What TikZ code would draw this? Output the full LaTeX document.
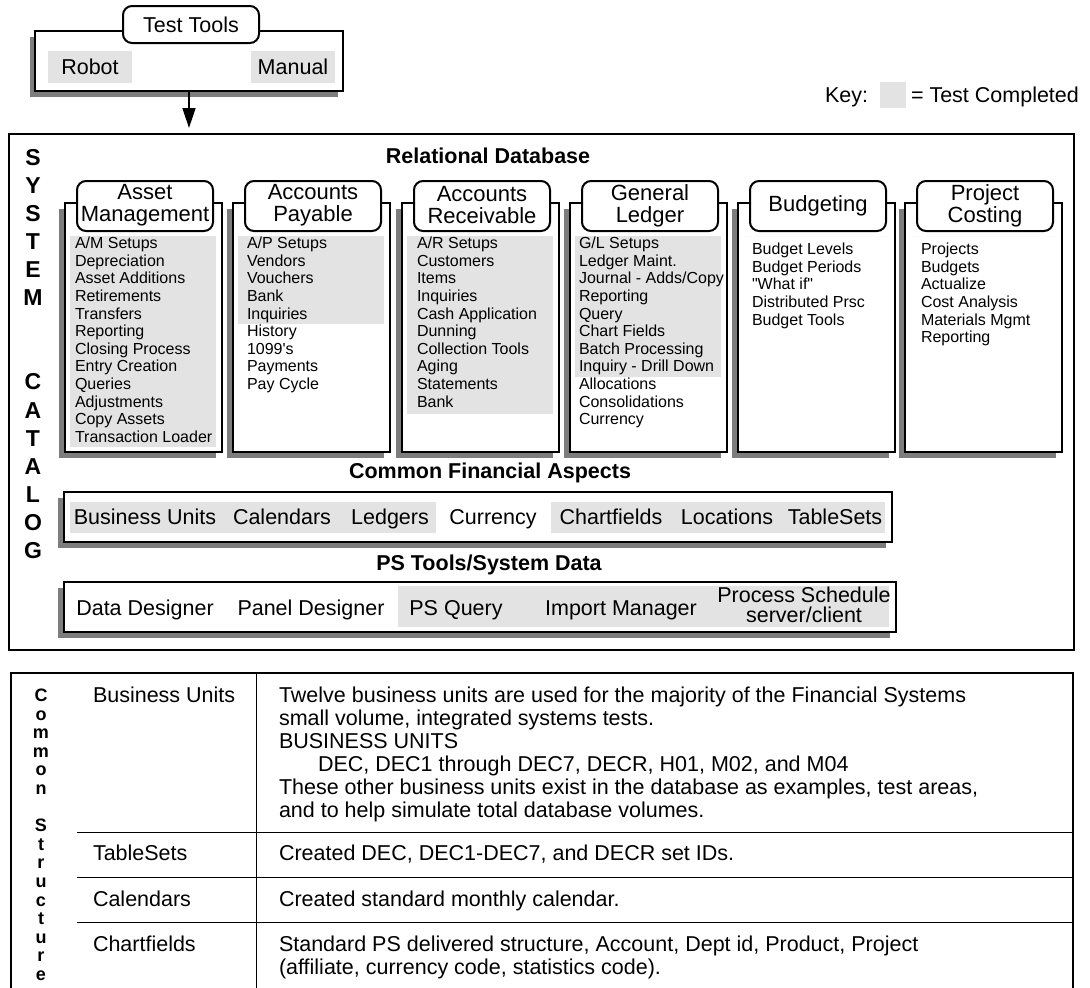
\documentclass[tikz,border=0pt]{standalone}
\usepackage{fontspec}
\newfontfamily\af{Liberation Sans}
\usetikzlibrary{arrows.meta}
\definecolor{donegray}{RGB}{227,227,227}
\definecolor{shadowgray}{RGB}{125,125,125}
\tikzset{
  every node/.style={inner sep=0pt, outer sep=0pt},
  ft/.style={font=\af\fontsize{16}{17.6}\selectfont},
  fm/.style={font=\af\fontsize{21.5}{21.5}\selectfont},
  fk/.style={font=\af\fontsize{21.5}{21.5}\selectfont},
  fh/.style={font=\af\fontsize{22}{22}\selectfont, align=center},
  fb/.style={font=\af\bfseries\fontsize{21.5}{21.5}\selectfont},
  fc/.style={font=\af\bfseries\fontsize{23}{23}\selectfont},
  fs/.style={font=\af\bfseries\fontsize{18}{18}\selectfont},
  frame/.style={draw=black, line width=2pt, fill=white},
  shade/.style={fill=shadowgray},
  done/.style={fill=donegray},
  tabbox/.style={draw=black, line width=2pt, fill=white, rounded corners=9pt},
  thin/.style={draw=black, line width=1pt},
}
\newcommand\modbox[7]{%
  \fill[shade] (#2-6,209) rectangle (#2+151,458);
  \node[frame, anchor=north west, minimum width=157pt, minimum height=249pt] (#1) at (#2,203) {};
  \fill[done] (#2+5,236) rectangle (#2+151,#4);
  \node[tabbox, minimum width=136pt, minimum height=50pt] (#1h) at (#2+80,206) {};
  \node[fh] (#1t) at (#2+80,205.5) {#3};
  \foreach \t [count=\k] in {#7} {\node[ft, anchor=base west] (#1i\k) at (#2+#5, #6+5.7+17.6*\k-17.6) {\t};}
}
\begin{document}
\begin{tikzpicture}[x=1pt,y=-1pt]
\useasboundingbox (0,0) rectangle (1090,988);
\clip (0,0) rectangle (1090,988);

% Test tools
\fill[shade] (30,37) rectangle (338,97);
\node[frame, anchor=north west, minimum width=308pt, minimum height=60pt] (tt) at (35,31) {};
\fill[done] (48,51) rectangle (132,83);
\fill[done] (251,51) rectangle (335,83);
\node[fm] (robot) at (90,67) {Robot};
\node[fm] (manual) at (293,67) {Manual};
\node[tabbox, fm, minimum width=136pt, minimum height=37pt] (tth) at (191,24.5) {Test Tools};

% Key
\node[fk, anchor=base west] (key) at (825,102.5) {Key:};
\fill[done] (880,82) rectangle (906,108);
\node[fk, anchor=base west] (keyt) at (911,102.5) {= Test Completed};

% System catalog
\node[frame, anchor=north west, minimum width=1065pt, minimum height=516pt] (cat) at (9,134) {};
\draw[line width=1.5pt, -{Triangle[width=13pt,length=20pt]}, shorten >=6pt] (tt.south) -- (tt.south |- cat.north);

\foreach \c/\yy [count=\k] in {S/158,Y/186,S/214,T/242,E/270,M/298,C/382,A/411,T/439,A/467,L/495,O/523,G/551}
  \node[fc] (sc\k) at (33,\yy) {\c};

\node[fb] (rdb) at (488,156) {Relational Database};

\modbox{am}{65}{Asset\\Management}{447}{10}{243}{A/M Setups,Depreciation,Asset Additions,Retirements,Transfers,Reporting,Closing Process,Entry Creation,Queries,Adjustments,Copy Assets,Transaction Loader}
\modbox{ap}{233}{Accounts\\Payable}{324}{14}{243}{A/P Setups,Vendors,Vouchers,Bank,Inquiries,History,1099's,Payments,Pay Cycle}
\modbox{ar}{402}{Accounts\\Receivable}{414}{15}{243}{A/R Setups,Customers,Items,Inquiries,Cash Application,Dunning,Collection Tools,Aging,Statements,Bank}
\modbox{gl}{570}{General\\Ledger}{377}{9}{243}{G/L Setups,Ledger Maint.,Journal - Adds/Copy,Reporting,Query,Chart Fields,Batch Processing,Inquiry - Drill Down,Allocations,Consolidations,Currency}
\modbox{bu}{738}{Budgeting}{236}{14}{249}{Budget Levels,Budget Periods,"What if",Distributed Prsc,Budget Tools}
\modbox{pc}{905}{Project\\Costing}{236}{16}{249}{Projects,Budgets,Actualize,Cost Analysis,Materials Mgmt,Reporting}

% Common financial aspects
\node[fb] (cfat) at (490,473) {Common Financial Aspects};
\fill[shade] (58,498) rectangle (886,548);
\node[frame, anchor=north west, minimum width=828pt, minimum height=50pt] (cfa) at (64,492) {};
\fill[done] (70,502) rectangle (436,533);
\fill[done] (551,502) rectangle (885,533);
\foreach \t/\xx [count=\k] in {Business Units/145,Calendars/282,Ledgers/390,Currency/493,Chartfields/611,Locations/727,TableSets/835}
  \node[fm, anchor=base] (cfa\k) at (\xx,524.7) {\t};

% PS tools
\node[fb] (pst) at (489,565) {PS Tools/System Data};
\fill[shade] (58,588) rectangle (890,638);
\node[frame, anchor=north west, minimum width=832pt, minimum height=50pt] (ps) at (64,582) {};
\fill[done] (398,586) rectangle (889,627);
\foreach \t/\xx [count=\k] in {Data Designer/145,Panel Designer/311,PS Query/456,Import Manager/621}
  \node[fm, anchor=base] (ps\k) at (\xx,615.7) {\t};
\node[fm, anchor=base] (ps5) at (804,602.7) {Process Schedule};
\node[fm, anchor=base] (ps6) at (804,622.7) {server/client};

% Table
\draw[line width=2pt] (11,1000) -- (11,673) -- (1073,673) -- (1073,1000);
\draw[thin] (256,673) -- (256,1000);
\draw[thin] (77,832) -- (1073,832);
\draw[thin] (77,877) -- (1073,877);
\draw[thin] (77,922) -- (1073,922);

\foreach \c/\kk in {C/0,o/1,m/2,m/3,o/4,n/5,S/7,t/8,r/9,u/10,c/11,t/12,u/13,r/14,e/15}
  \node[fs, anchor=base] (cs\kk) at (41,701.5+18.6*\kk) {\c};

\node[fm, anchor=base west] (r1) at (93,702.7) {Business Units};
\node[fm, anchor=base west] (r2) at (93,860.7) {TableSets};
\node[fm, anchor=base west] (r3) at (93,906.7) {Calendars};
\node[fm, anchor=base west] (r4) at (93,951.7) {Chartfields};

\node[fm, anchor=base west] (d1) at (279,702.7) {Twelve business units are used for the majority of the Financial Systems};
\node[fm, anchor=base west] (d2) at (279,725.7) {small volume, integrated systems tests.};
\node[fm, anchor=base west] (d3) at (279,748.7) {BUSINESS UNITS};
\node[fm, anchor=base west] (d4) at (318,771.7) {DEC, DEC1 through DEC7, DECR, H01, M02, and M04};
\node[fm, anchor=base west] (d5) at (279,794.7) {These other business units exist in the database as examples, test areas,};
\node[fm, anchor=base west] (d6) at (279,817.7) {and to help simulate total database volumes.};
\node[fm, anchor=base west] (d7) at (279,860.7) {Created DEC, DEC1-DEC7, and DECR set IDs.};
\node[fm, anchor=base west] (d8) at (279,906.7) {Created standard monthly calendar.};
\node[fm, anchor=base west] (d9) at (279,951.7) {Standard PS delivered structure, Account, Dept id, Product, Project};
\node[fm, anchor=base west] (d10) at (279,974.7) {(affiliate, currency code, statistics code).};
\end{tikzpicture}
\end{document}
